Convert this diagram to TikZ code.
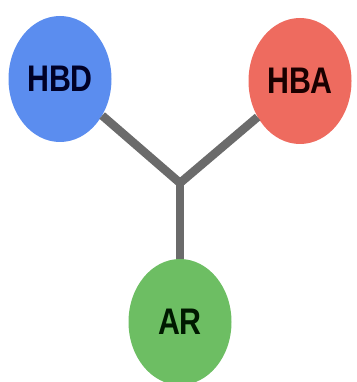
\documentclass[tikz,border=0pt]{standalone}
\usepackage{fontspec}
\setmainfont{Liberation Sans}
\newfontfamily\lblfont[FakeStretch=0.82]{Liberation Sans}
\usetikzlibrary{shapes.geometric}
\definecolor{cblue}{HTML}{5B8DEF}
\definecolor{cred}{HTML}{EE6B5F}
\definecolor{cgreen}{HTML}{6DBE63}
\definecolor{cline}{HTML}{6B6B6B}
\tikzset{
  bubble/.style={ellipse, minimum width=103pt, minimum height=126pt, inner sep=0pt,
    font=\lblfont\bfseries\fontsize{37}{37}\selectfont},
  link/.style={draw=cline, line width=8.5pt}
}
\begin{document}
\begin{tikzpicture}[x=1pt,y=-1pt]
\useasboundingbox (0,0) rectangle (356,382);
\node[bubble, fill=cblue, text=black!85!blue] (hbd) at (60,79) {HBD};
\node[bubble, fill=cred, text=black!90!red] (hba) at (300,81) {HBA};
\node[bubble, fill=cgreen, text=black!90!green] (ar) at (180,322) {AR};
\coordinate (j) at (180,183);
\draw[link] (hbd) -- (j);
\draw[link] (hba) -- (j);
\draw[link] (j) -- (ar);
\fill[cline] (j) circle (4.25pt);
\end{tikzpicture}
\end{document}
